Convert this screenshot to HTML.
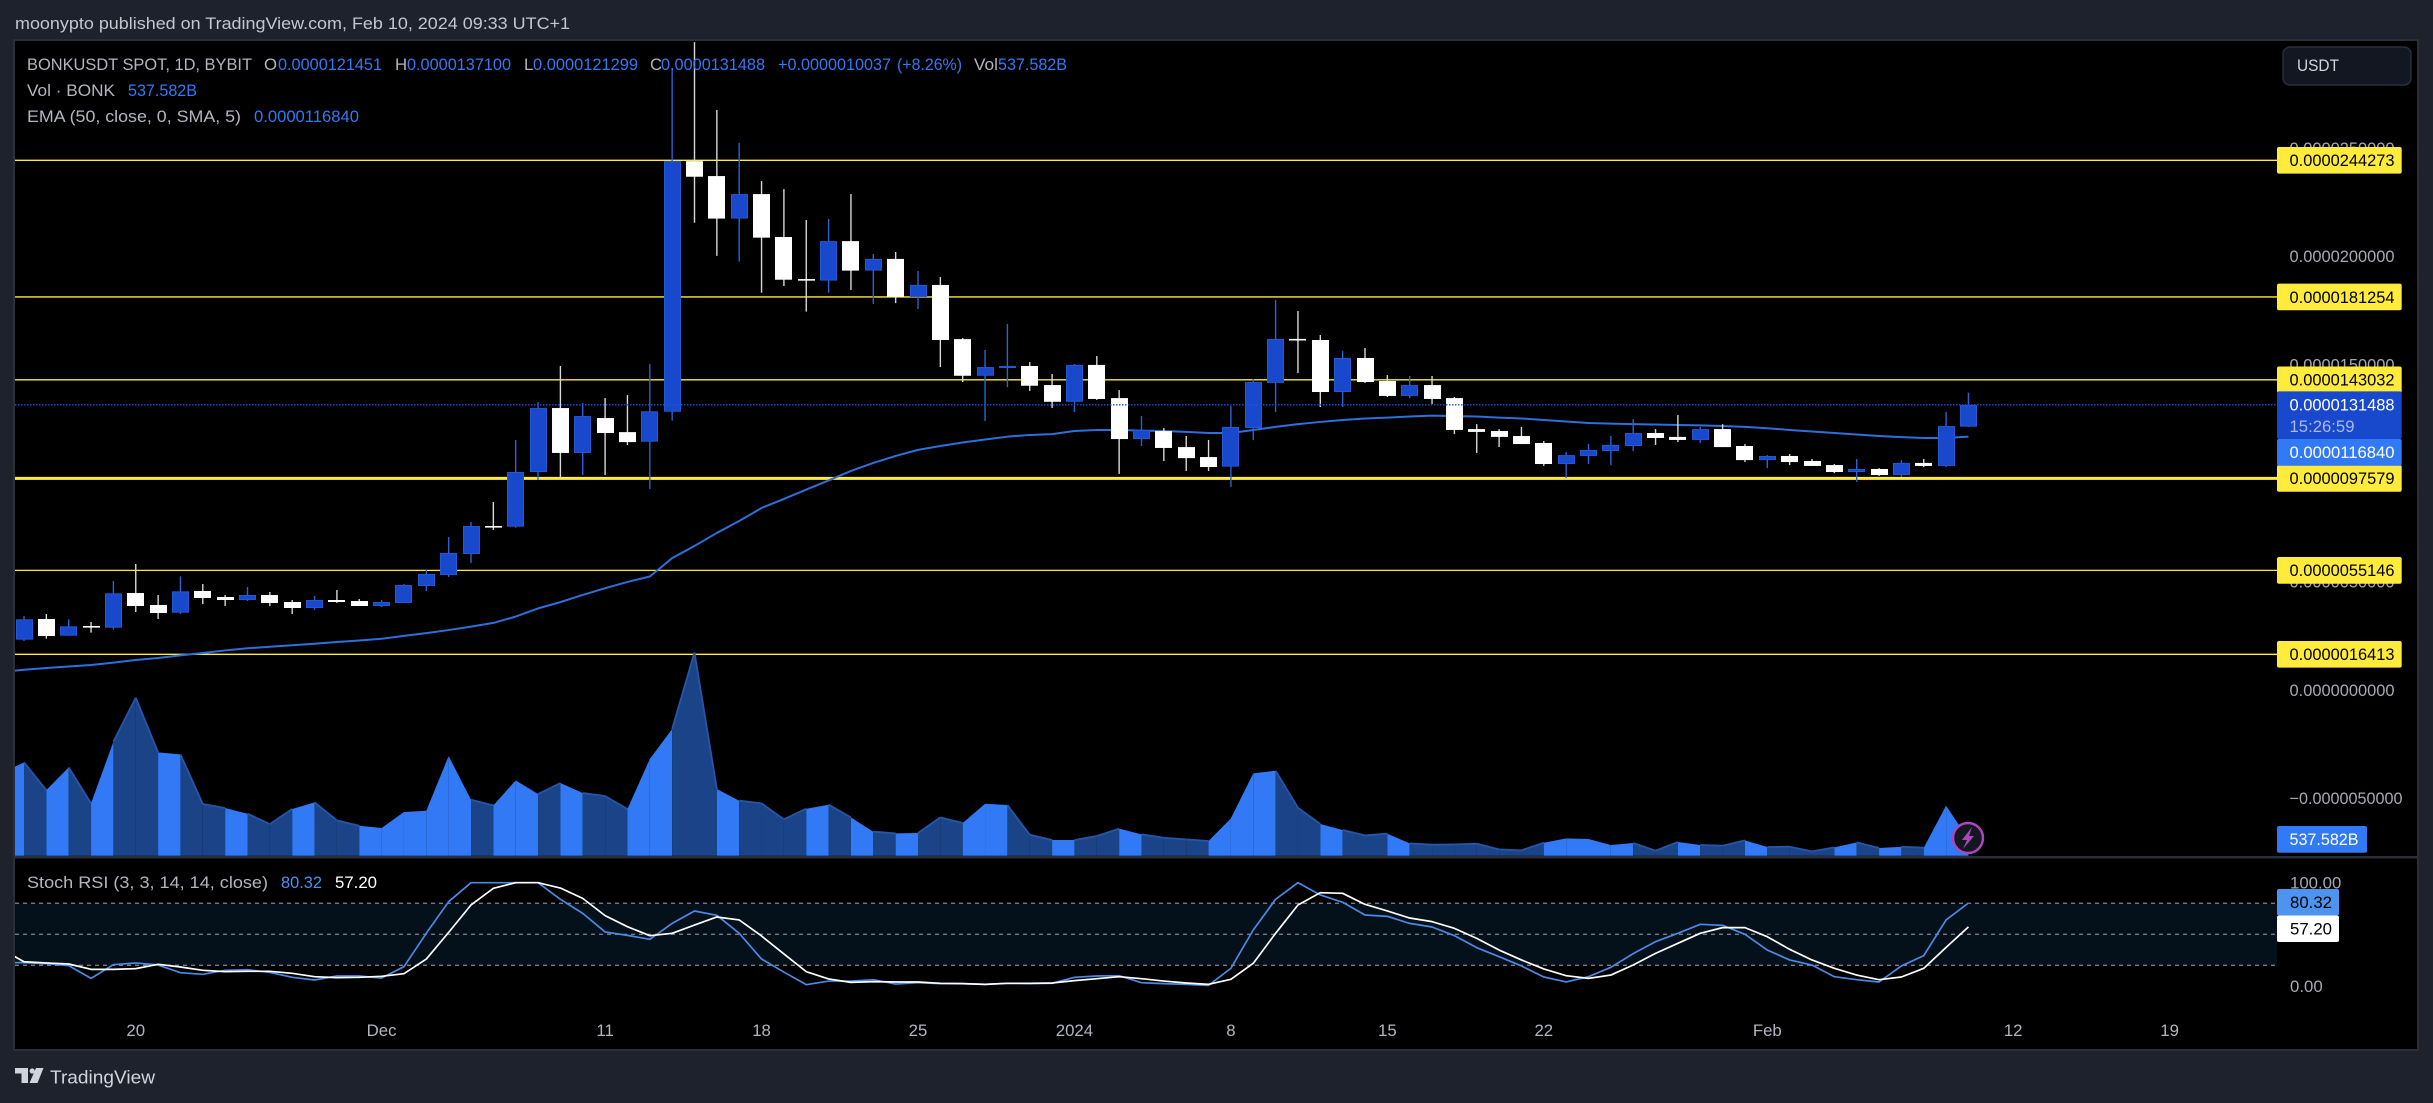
<!DOCTYPE html>
<html lang="en">
<head>
<meta charset="utf-8">
<title>BONKUSDT chart</title>
<style>
html,body{margin:0;padding:0;background:#1e222d;width:2433px;height:1103px;overflow:hidden}
svg{display:block}
text{font-family:"Liberation Sans",Arial,sans-serif;font-size:16.8px}
</style>
</head>
<body>
<svg id="chart" xmlns="http://www.w3.org/2000/svg" width="2433" height="1103" viewBox="0 0 2433 1103">
  <defs>
    <clipPath id="plot-clip"><rect x="15" y="41" width="2262" height="815"/></clipPath>
    <clipPath id="stoch-clip"><rect x="15" y="859" width="2262" height="189"/></clipPath>
  </defs>
  <rect x="0" y="0" width="2433" height="1103" fill="#1e222d"/>
  <text x="15" y="29" fill="#c3c6ce" textLength="555">moonypto published on TradingView.com, Feb 10, 2024 09:33 UTC+1</text>
  <rect x="14" y="40" width="2404" height="1010" fill="#000" stroke="#2a2e39" stroke-width="2"/>
  <g id="price-ticks"></g>
  <g id="levels" clip-path="url(#plot-clip)"></g>
  <g id="ema" clip-path="url(#plot-clip)"></g>
  <g id="candles" clip-path="url(#plot-clip)"></g>
  <g id="last-line" clip-path="url(#plot-clip)"></g>
  <g id="volume" clip-path="url(#plot-clip)"></g>
  <g id="price-labels"></g>

  <g>
    <text x="27" y="70" fill="#b2b5be" textLength="225">BONKUSDT SPOT, 1D, BYBIT</text>
    <text x="264" y="70" fill="#b2b5be">O</text>
    <text x="278" y="70" fill="#3179f5" textLength="104">0.0000121451</text>
    <text x="395" y="70" fill="#b2b5be">H</text>
    <text x="407" y="70" fill="#3179f5" textLength="104">0.0000137100</text>
    <text x="524" y="70" fill="#b2b5be">L</text>
    <text x="533" y="70" fill="#3179f5" textLength="105">0.0000121299</text>
    <text x="650" y="70" fill="#b2b5be">C</text>
    <text x="661" y="70" fill="#3179f5" textLength="104">0.0000131488</text>
    <text x="778" y="70" fill="#3179f5" textLength="113">+0.0000010037</text>
    <text x="897" y="70" fill="#3179f5" textLength="65">(+8.26%)</text>
    <text x="974" y="70" fill="#b2b5be" textLength="24">Vol</text>
    <text x="998" y="70" fill="#3179f5" textLength="69">537.582B</text>
    <text x="27" y="96" fill="#b2b5be" textLength="88">Vol · BONK</text>
    <text x="128" y="96" fill="#3179f5" textLength="69">537.582B</text>
    <text x="27" y="122" fill="#b2b5be" textLength="214">EMA (50, close, 0, SMA, 5)</text>
    <text x="254" y="122" fill="#3179f5" textLength="105">0.0000116840</text>
  </g>

  <g>
    <rect x="2283" y="47" width="128" height="38" rx="7" fill="#131722" stroke="#2a2e39" stroke-width="1.5"/>
    <text x="2297" y="71" fill="#d1d4dc" textLength="42">USDT</text>
  </g>

  <g>
    <circle cx="1968" cy="838" r="15" fill="#131722" stroke="#ab47bc" stroke-width="2.5"/>
    <polygon points="1972,827 1962,840 1967,840 1963,849 1974,836 1969,836" fill="#ab47bc"/>
  </g>

  <rect x="15" y="856" width="2402" height="2.5" fill="#2a2e39"/>

  <g id="stoch-bands"></g>
  <g id="stoch-lines" clip-path="url(#stoch-clip)"></g>
  <g id="stoch-axis"></g>
  <g id="time-axis"></g>

  <g>
    <text x="27" y="888" fill="#b2b5be" textLength="241">Stoch RSI (3, 3, 14, 14, close)</text>
    <text x="281" y="888" fill="#4a90f0" textLength="41">80.32</text>
    <text x="335" y="888" fill="#ffffff" textLength="42">57.20</text>
  </g>

  <g>
    <path fill="#d1d4dc" d="M15 1068h13v15h-6.500v-9.500h-6.500zM36 1068h7.500l-6 15h-8z"/>
    <circle cx="32.200" cy="1071" r="2.600" fill="#d1d4dc"/>
    <text x="50" y="1083.500" fill="#d1d4dc" textLength="105" style="font-size:18px">TradingView</text>
  </g>
</svg>

<script>
// Prices are in units of 0.0000001 USDT. The first slot is the session just left of the visible range.
var categories = ["Nov 14","Nov 15","Nov 16","Nov 17","Nov 18","Nov 19","Nov 20","Nov 21","Nov 22","Nov 23","Nov 24","Nov 25","Nov 26","Nov 27","Nov 28","Nov 29","Nov 30",
"Dec 1","Dec 2","Dec 3","Dec 4","Dec 5","Dec 6","Dec 7","Dec 8","Dec 9","Dec 10","Dec 11","Dec 12","Dec 13","Dec 14","Dec 15","Dec 16","Dec 17","Dec 18","Dec 19","Dec 20","Dec 21","Dec 22","Dec 23","Dec 24","Dec 25","Dec 26","Dec 27","Dec 28","Dec 29","Dec 30","Dec 31",
"Jan 1","Jan 2","Jan 3","Jan 4","Jan 5","Jan 6","Jan 7","Jan 8","Jan 9","Jan 10","Jan 11","Jan 12","Jan 13","Jan 14","Jan 15","Jan 16","Jan 17","Jan 18","Jan 19","Jan 20","Jan 21","Jan 22","Jan 23","Jan 24","Jan 25","Jan 26","Jan 27","Jan 28","Jan 29","Jan 30","Jan 31",
"Feb 1","Feb 2","Feb 3","Feb 4","Feb 5","Feb 6","Feb 7","Feb 8","Feb 9","Feb 10"];

var openPrices = [22.0,
23.17,32.7,25.01,29.47,28.7,44.69,39.16,35.62,45.62,42.85,
41.46,43.77,40.54,37.78,41.46,41.0,38.7,40.08,47.92,53.0,
62.68,75.6,75.29,100.5,130.0,109.3,125.4,118.9,114.5,128.3,
243.9,237.0,217.4,228.7,208.9,189.5,188.8,207.0,193.4,198.8,
181.2,186.8,161.8,144.9,148.6,149.4,140.6,132.9,149.9,134.6,
115.7,119.4,112.0,107.4,103.0,120.8,141.6,161.9,161.4,137.4,
153.1,142.5,135.6,140.6,134.6,120.3,119.4,117.1,113.9,104.2,
107.9,110.2,112.5,118.5,116.7,115.3,120.3,112.5,106.0,107.9,
105.6,103.7,100.5,101.9,99.1,104.7,103.3,121.45];

var highPrices = [24.0,
34.09,35.01,32.55,31.32,50.23,58.07,43.77,52.38,48.85,43.77,
47.46,45.16,41.46,43.31,46.08,41.93,41.46,48.85,55.3,70.53,
77.44,86.67,115.3,132.8,149.4,132.3,134.6,136.0,150.3,286.9,
298.8,267.5,252.3,234.7,231.0,216.7,217.2,228.7,201.1,202.0,
193.2,190.4,162.3,156.8,168.8,151.2,145.7,150.3,154.0,138.3,
126.3,120.8,117.1,115.3,130.9,143.4,179.8,174.8,163.7,156.3,
157.7,145.2,144.8,144.8,135.1,122.6,120.3,121.3,114.8,109.7,
113.4,117.1,124.9,120.3,126.8,121.3,122.6,113.4,108.3,108.8,
106.5,104.2,106.5,102.3,106.0,106.5,128.2,137.1];

var lowPrices = [20.0,
22.55,23.63,25.01,26.4,27.78,35.93,32.7,35.01,39.62,38.7,
41.0,38.7,35.01,36.85,40.08,38.7,38.24,40.08,45.62,52.08,
58.53,73.76,74.83,96.8,97.7,99.1,99.1,112.9,92.7,124.2,
215.5,200.2,197.5,183.2,186.3,174.5,183.2,184.5,178.0,178.4,
175.7,148.9,142.0,124.0,139.7,137.9,130.0,128.2,133.7,99.6,
112.5,105.6,101.0,101.0,93.6,115.2,128.2,146.2,130.5,130.5,
141.6,135.1,134.6,131.9,118.0,109.3,112.0,113.4,103.3,97.7,
104.2,103.7,110.2,113.0,114.3,113.9,112.0,105.1,102.3,103.7,
103.3,100.0,95.9,98.7,98.2,102.8,102.8,121.3];

var closePrices = [23.0,
32.55,24.86,29.32,29.01,44.54,38.7,35.47,45.46,42.39,41.46,
43.77,40.08,37.78,41.46,40.54,38.7,40.54,48.39,53.46,63.15,
75.6,75.14,100.5,130.0,109.3,126.3,118.5,114.3,128.5,243.9,
236.7,217.4,228.7,208.6,189.2,188.8,207.0,193.4,198.8,181.2,
186.8,161.4,144.9,148.9,149.4,140.3,132.9,149.9,134.2,115.7,
119.9,111.6,106.9,102.8,121.3,142.0,161.9,161.4,137.4,153.1,
142.0,135.6,140.6,134.2,119.9,119.0,116.7,113.4,104.2,108.3,
110.7,113.0,118.5,116.2,115.3,120.3,112.0,106.0,107.9,105.1,
103.3,100.5,101.9,99.1,104.7,103.3,121.7,131.488];

var emaValues = [8.26,
9.3,10.1,10.8,11.5,12.6,13.8,14.7,15.9,17.0,18.2,
19.2,19.9,20.6,21.3,22.1,22.8,23.6,24.9,26.2,27.6,
29.2,30.9,33.8,37.6,40.5,43.8,46.9,49.8,52.3,60.8,
66.4,72.4,77.9,83.9,88.1,92.4,96.6,101.0,104.7,107.9,
110.7,112.5,114.1,115.5,116.8,117.6,118.0,119.4,119.9,119.9,
119.6,119.4,119.0,118.5,118.5,119.9,121.3,122.6,123.6,124.5,
125.2,125.6,126.1,126.5,126.3,126.1,125.6,125.2,124.5,123.8,
123.1,122.8,122.6,122.4,122.2,122.0,121.7,121.3,120.7,119.9,
119.2,118.5,117.8,117.1,116.6,116.2,116.2,116.84];

// Volume in billions of BONK.
var volumeValues = [2732,
3072,2161,2907,1722,3752,5200,3401,3335,1700,1569,
1382,1042,1536,1755,1163,987,911,1437,1481,3280,
1843,1656,2479,2029,2391,2062,1964,1536,3181,4169,
6692,2194,1810,1722,1196,1547,1678,1262,790,735,
746,1262,1075,1711,1667,691,516,516,647,889,
702,592,538,483,1229,2710,2797,1580,1042,845,
669,724,406,362,373,395,208,176,428,570,
549,351,417,165,450,351,329,505,285,296,
143,274,439,252,296,263,1646,537.582];

// 1 marks a session whose band is shaded as a falling-volume segment.
var volumeFalling = [0,
1,0,1,0,1,1,0,1,1,0,
1,1,0,1,1,0,0,0,0,0,
1,0,0,1,0,1,1,0,0,1,
1,0,1,1,1,0,1,0,1,0,
1,1,0,0,1,1,0,1,1,0,
1,1,1,0,0,0,1,1,0,1,
1,0,1,1,1,1,1,1,0,0,
0,0,1,1,0,1,1,0,1,1,
1,0,1,0,1,0,0];

var stochK = [22.6,
22.6,21.6,19.7,7.4,20.6,22.3,20.3,12.9,11.3,15.2,
15.8,13.2,8.4,5.8,9.7,9.7,7.7,18.7,51.0,81.6,
100,100,100,100,83.9,70.3,52.3,49.0,45.2,60.6,
72.6,68.4,51.0,26.1,13.5,1.3,4.8,4.8,6.1,1.9,
3.2,2.3,2.3,1.6,2.6,2.3,2.6,8.4,9.7,10.0,
3.2,2.3,1.6,0.6,17.1,54.2,83.9,100,88.1,81.0,
68.7,67.4,60.6,57.1,48.7,37.1,28.4,19.4,8.7,3.9,
9.0,18.1,31.3,42.9,51.0,59.7,58.7,50.0,34.8,25.2,
20.3,9.0,6.1,3.9,19.4,29.4,63.9,80.32];

var stochD = [35.5,
23.5,22.3,21.3,16.1,16.1,16.8,21.0,18.4,15.2,13.9,
14.2,14.2,12.3,9.0,8.1,8.4,9.4,11.9,26.1,51.9,
78.4,94.5,100,100,94.8,84.8,68.1,57.4,48.7,51.0,
59.0,66.8,63.9,48.4,31.0,13.9,6.8,3.5,4.2,3.9,
3.9,2.6,2.3,1.6,2.6,2.6,2.9,5.2,7.1,9.0,
7.1,4.8,2.9,1.6,6.5,21.9,51.0,78.4,90.3,89.7,
79.0,72.6,65.8,62.3,55.8,46.1,34.8,25.2,16.5,10.0,
7.4,10.6,20.3,31.6,41.3,51.0,56.5,56.5,47.7,35.5,
25.2,17.1,10.6,6.1,8.7,17.1,37.4,57.2];

var levelValues = [244.273,181.254,143.032,97.579,55.146,16.413];
var priceTickValues = [250,200,150,100,50,0,-50];
var stochTickValues = [100,0];
var stochBandValues = [80,50,20];
var timeTickLabels = ["20","Dec","11","18","25","2024","8","15","22","Feb","12","19"];
var timeTickSlots = [6,17,27,34,41,48,55,62,69,79,90,97];

var SVG_NS = 'http://www.w3.org/2000/svg';
function xAt(slot){ return 1.65 + 22.35 * slot; }
function yPrice(p){ return 689.9 - 2.168 * p; }
function yVolume(b){ return 855.7 - b / 32.91; }
function yStoch(v){ return 986 - 1.0333 * v; }
function priceText(p){
  var s = (Math.abs(p) / 1e7).toFixed(10);
  return p < 0 ? '\u2212' + s : s;
}
function make(parent, tag, attrs, content){
  var el = document.createElementNS(SVG_NS, tag);
  for (var k in attrs) el.setAttribute(k, attrs[k]);
  if (content !== undefined) el.textContent = content;
  parent.appendChild(el);
  return el;
}
function pathFrom(values, yFn){
  var d = '';
  for (var i = 0; i < values.length; i++) {
    d += (i ? 'L' : 'M') + xAt(i).toFixed(2) + ' ' + yFn(values[i]).toFixed(2);
  }
  return d;
}

var PLOT_RIGHT = 2277;

// price axis ticks
var priceTicksGroup = document.getElementById('price-ticks');
priceTickValues.forEach(function(v){
  var el = make(priceTicksGroup, 'text', {x: 2289.5, y: yPrice(v) + 5.9, fill: '#a6a9b2', textLength: v < 0 ? 113 : 105}, priceText(v));
  
  
});

// horizontal levels
var levelsGroup = document.getElementById('levels');
levelValues.forEach(function(v, i){
  var el = make(levelsGroup, 'line', {x1: 15, x2: PLOT_RIGHT, y1: yPrice(v), y2: yPrice(v), stroke: '#ffeb3b', 'stroke-width': i === 3 ? 3 : 1.3});
  
  
});

// EMA
var emaLine = make(document.getElementById('ema'), 'path', {d: pathFrom(emaValues, yPrice), fill: 'none', stroke: '#2d6fdc', 'stroke-width': 2, 'stroke-linejoin': 'round'});



// candles
var candlesGroup = document.getElementById('candles');
openPrices.forEach(function(o, i){
  var c = closePrices[i];
  var up = c >= o;
  var x = xAt(i);
  var top = yPrice(Math.max(o, c));
  var bottom = yPrice(Math.min(o, c));
  var wick = make(candlesGroup, 'line', {x1: x, x2: x, y1: yPrice(highPrices[i]), y2: yPrice(lowPrices[i]), stroke: up ? '#2a62d8' : '#d8d8d8', 'stroke-width': 1.4});
  
  
  var inset = up ? 0.5 : 0;
  var body = make(candlesGroup, 'rect', {
    x: Math.round(x - 8.5) + inset, y: top + inset,
    width: 17 - inset * 2, height: Math.max(bottom - top - inset * 2, up ? 1 : 1.6),
    fill: up ? '#1848cc' : '#ffffff',
    stroke: up ? '#2459d4' : 'none', 'stroke-width': up ? 1 : 0
  });
  
  
});

// last price dotted line
var lastPrice = closePrices[closePrices.length - 1];
var lastLine = make(document.getElementById('last-line'), 'line', {x1: 15, x2: PLOT_RIGHT, y1: yPrice(lastPrice), y2: yPrice(lastPrice), stroke: '#1c50e0', 'stroke-width': 1.4, 'stroke-dasharray': '1.5 1.5'});



// volume segments
var volumeGroup = document.getElementById('volume');
volumeFalling.forEach(function(flag, i){
  var x1 = xAt(i), x2 = xAt(i + 1);
  var y1 = yVolume(volumeValues[i]), y2 = yVolume(volumeValues[i + 1]);
  var seg = make(volumeGroup, 'polygon', {
    points: x1 + ',855.7 ' + x1 + ',' + y1 + ' ' + x2 + ',' + y2 + ' ' + x2 + ',855.7',
    fill: flag ? '#1b4488' : '#3179f5'
  });
  
  
  if (flag) {
    var edge = make(volumeGroup, 'line', {x1: x1, y1: y1, x2: x2, y2: y2, stroke: '#2556a8', 'stroke-width': 1.8});
    
    
  }
});

// right-hand price labels
var labelsGroup = document.getElementById('price-labels');
function priceLabel(top, height, width, fill, text, color){
  var r = make(labelsGroup, 'rect', {x: 2277, y: top, width: width, height: height, rx: 2, fill: fill});
  
  
  var t = make(labelsGroup, 'text', {x: 2289.5, y: top + 19.2, fill: color, textLength: text.length === 12 ? 105 : 69}, text);
  
  
}
levelValues.forEach(function(v){
  priceLabel(yPrice(v) - 13.35, 26.7, 124.7, '#ffeb3b', priceText(v), '#000000');
});
var lastTop = yPrice(lastPrice) - 13.4;
priceLabel(lastTop, 47.6, 124.7, '#1848cc', priceText(lastPrice), '#ffffff');
var countdown = make(labelsGroup, 'text', {x: 2289.5, y: lastTop + 40.5, fill: '#a9b9ea', textLength: 65}, '15:26:59');


var emaLast = emaValues[emaValues.length - 1];
var emaTop = Math.max(lastTop + 47.6, yPrice(emaLast) - 13.35);
priceLabel(emaTop, 26.7, 124.7, '#3179f5', priceText(emaLast), '#ffffff');
priceLabel(yVolume(volumeValues[volumeValues.length - 1]) - 13.35, 26.7, 90, '#3179f5', '537.582B', '#ffffff');

// stoch bands
var bandsGroup = document.getElementById('stoch-bands');
var zone = make(bandsGroup, 'rect', {x: 15, width: PLOT_RIGHT - 15, y: yStoch(stochBandValues[0]), height: yStoch(stochBandValues[2]) - yStoch(stochBandValues[0]), fill: '#04101a'});


stochBandValues.forEach(function(v){
  var l = make(bandsGroup, 'line', {x1: 15, x2: PLOT_RIGHT, y1: yStoch(v), y2: yStoch(v), stroke: '#787b86', 'stroke-width': 1.3, 'stroke-dasharray': '4 4'});
  
  
});

// stoch lines
var stochGroup = document.getElementById('stoch-lines');
var kLine = make(stochGroup, 'path', {d: pathFrom(stochK, yStoch), fill: 'none', stroke: '#4a8ae6', 'stroke-width': 1.7, 'stroke-linejoin': 'round'});


var dLine = make(stochGroup, 'path', {d: pathFrom(stochD, yStoch), fill: 'none', stroke: '#ffffff', 'stroke-width': 1.7, 'stroke-linejoin': 'round'});



// stoch axis
var stochAxis = document.getElementById('stoch-axis');
stochTickValues.forEach(function(v){
  var t = make(stochAxis, 'text', {x: 2290, y: yStoch(v) + 5.9, fill: '#a6a9b2'}, v.toFixed(2));
  
  
});
var kLast = stochK[stochK.length - 1], dLast = stochD[stochD.length - 1];
var kTop = yStoch(kLast) - 14;
var dTop = Math.max(kTop + 26.5, yStoch(dLast) - 13.35);
[[kTop, kLast, '#4d94f0'], [dTop, dLast, '#ffffff']].forEach(function(row){
  var box = make(stochAxis, 'rect', {x: 2277, y: row[0], width: 62, height: 26.5, rx: 2, fill: row[2]});
  
  
  var t = make(stochAxis, 'text', {x: 2290, y: row[0] + 19.2, fill: '#000000'}, row[1].toFixed(2));
  
  
});

// time axis
var timeAxis = document.getElementById('time-axis');
timeTickLabels.forEach(function(label, i){
  var t = make(timeAxis, 'text', {x: xAt(timeTickSlots[i]), y: 1036, fill: '#b2b5be', 'text-anchor': 'middle'}, label);
  
  
});

// keep fitted strings from showing stretched letter gaps
document.querySelectorAll('text[textLength]').forEach(function(t){
  t.setAttribute('lengthAdjust', 'spacingAndGlyphs');
});
</script>
</body>
</html>
